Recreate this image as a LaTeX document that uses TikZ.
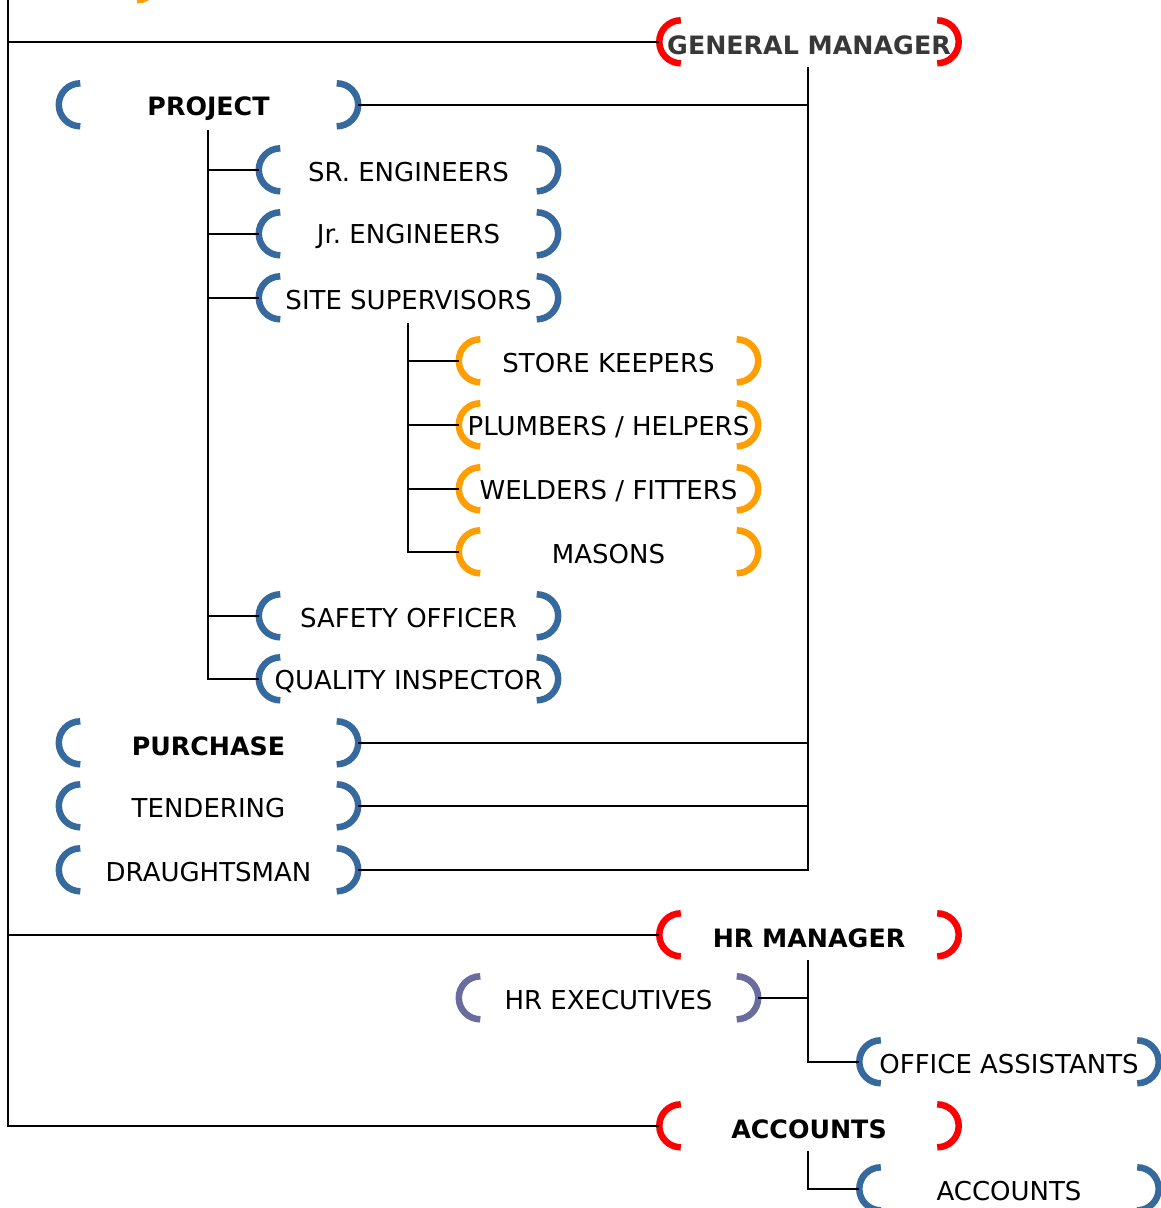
\documentclass[tikz,border=0pt]{standalone}
\usepackage{fontspec}
\setmainfont{DejaVu Sans}
\frenchspacing
\definecolor{bblue}{HTML}{366A9E}
\definecolor{borange}{HTML}{FF9E00}
\definecolor{bred}{HTML}{FF0000}
\definecolor{bpurple}{HTML}{6B6B9E}
\definecolor{gmgray}{HTML}{383838}
\newcommand{\brk}[2]{%
  \draw[#2,line width=6.5pt] ([xshift=21.5pt]#1.north west) arc[start angle=90,end angle=270,radius=21.5pt];
  \draw[#2,line width=6.5pt] ([xshift=-21.5pt]#1.north east) arc[start angle=90,end angle=-90,radius=21.5pt];
}
\tikzset{
  box/.style={rectangle,inner sep=0pt,minimum width=299pt,minimum height=43pt,
    font=\fontsize{26}{30}\selectfont},
  boldbox/.style={box,font=\fontsize{25.3}{30}\selectfont\bfseries},
  conn/.style={line width=2pt,black}
}
\newcommand{\lbl}[1]{\makebox[0pt][c]{\raisebox{-2.5pt}[\height][\depth]{#1}}}
\newcommand{\blbl}[1]{\makebox[0pt][c]{\raisebox{-3.5pt}[\height][\depth]{#1}}}
\begin{document}
\begin{tikzpicture}[x=1pt,y=-1pt]
\useasboundingbox (0,0) rectangle (1161,1208);
\clip (0,0) rectangle (1161,1208);
\fill[white] (0,0) rectangle (1161,1208);

% nodes
\node[boldbox,text=gmgray] (gm) at (809,42) {\blbl{GENERAL MANAGER}};
\node[boldbox] (proj) at (208.5,105) {\blbl{PROJECT}};
\node[box] (sr) at (408.5,170) {\lbl{SR. ENGINEERS}};
\node[box] (jr) at (408.5,234) {\lbl{Jr. ENGINEERS}};
\node[box] (site) at (408.5,298) {\lbl{SITE SUPERVISORS}};
\node[box] (store) at (608.5,361) {\lbl{STORE KEEPERS}};
\node[box] (plumb) at (608.5,425) {\lbl{PLUMBERS / HELPERS}};
\node[box] (weld) at (608.5,489) {\lbl{WELDERS / FITTERS}};
\node[box] (mason) at (608.5,552) {\lbl{MASONS}};
\node[box] (safety) at (408.5,616) {\lbl{SAFETY OFFICER}};
\node[box] (quality) at (408.5,679) {\lbl{QUALITY INSPECTOR}};
\node[boldbox] (purch) at (208.5,743) {\blbl{PURCHASE}};
\node[box] (tender) at (208.5,806) {\lbl{TENDERING}};
\node[box] (draught) at (208.5,870) {\lbl{DRAUGHTSMAN}};
\node[boldbox] (hrm) at (809,935) {\blbl{HR MANAGER}};
\node[box] (hrex) at (608.5,998) {\lbl{HR EXECUTIVES}};
\node[box] (office) at (1009,1062) {\lbl{OFFICE ASSISTANTS}};
\node[boldbox] (acc) at (809,1126) {\blbl{ACCOUNTS}};
\node[box] (acc2) at (1009,1189) {\lbl{ACCOUNTS}};

% brackets
\brk{gm}{bred}
\brk{proj}{bblue}
\brk{sr}{bblue}
\brk{jr}{bblue}
\brk{site}{bblue}
\brk{store}{borange}
\brk{plumb}{borange}
\brk{weld}{borange}
\brk{mason}{borange}
\brk{safety}{bblue}
\brk{quality}{bblue}
\brk{purch}{bblue}
\brk{tender}{bblue}
\brk{draught}{bblue}
\brk{hrm}{bred}
\brk{hrex}{bpurple}
\brk{office}{bblue}
\brk{acc}{bred}
\brk{acc2}{bblue}

% orange fragment at top
\draw[borange,line width=4pt] (137,1.5) arc[start angle=90,end angle=60,radius=21.5];

% left trunk
\coordinate (top) at (8,0);
\draw[conn] (top) |- (acc.west);
\draw[conn] (top |- gm.west) -- (gm.west);
\draw[conn] (top |- hrm.west) -- (hrm.west);

% general manager trunk
\coordinate (gmt) at (808,67);
\draw[conn] (gmt) |- (draught.east);
\draw[conn] (gmt |- proj.east) -- (proj.east);
\draw[conn] (gmt |- purch.east) -- (purch.east);
\draw[conn] (gmt |- tender.east) -- (tender.east);

% project trunk
\coordinate (pt) at (208,130);
\draw[conn] (pt) |- (quality.west);
\draw[conn] (pt |- sr.west) -- (sr.west);
\draw[conn] (pt |- jr.west) -- (jr.west);
\draw[conn] (pt |- site.west) -- (site.west);
\draw[conn] (pt |- safety.west) -- (safety.west);

% site supervisors trunk
\coordinate (st) at (408,323);
\draw[conn] (st) |- (mason.west);
\draw[conn] (st |- store.west) -- (store.west);
\draw[conn] (st |- plumb.west) -- (plumb.west);
\draw[conn] (st |- weld.west) -- (weld.west);

% HR trunk
\coordinate (ht) at (808,960);
\draw[conn] (ht) |- (office.west);
\draw[conn] (ht |- hrex.east) -- (hrex.east);

% accounts trunk
\coordinate (at) at (808,1151);
\draw[conn] (at) |- (acc2.west);
\end{tikzpicture}
\end{document}
